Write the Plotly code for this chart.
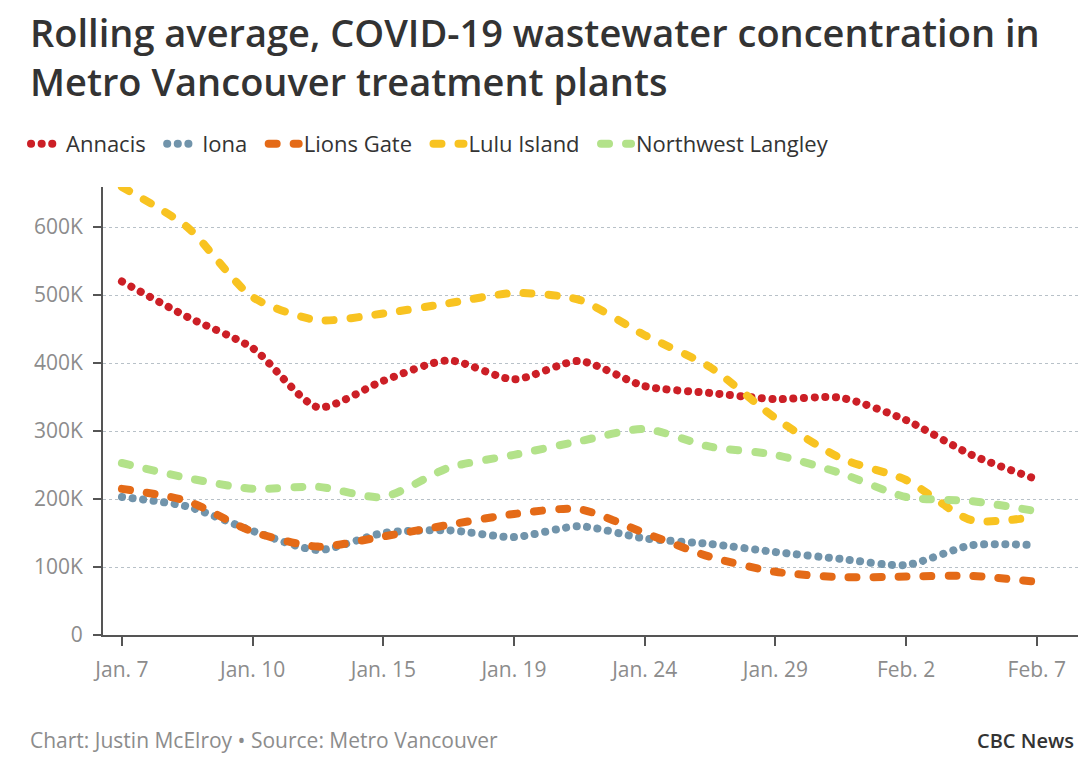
import plotly.graph_objects as go

dates = ["Jan. 7", "Jan. 8", "Jan. 10", "Jan. 12", "Jan. 15", "Jan. 17", "Jan. 19", "Jan. 22",
         "Jan. 24", "Jan. 26", "Jan. 29", "Jan. 31", "Feb. 2", "Feb. 5", "Feb. 7"]
tick_labels = ["Jan. 7", "Jan. 10", "Jan. 15", "Jan. 19", "Jan. 24", "Jan. 29", "Feb. 2", "Feb. 7"]

annacis = [520, 468, 422, 335, 374, 404, 376, 403, 366, 356, 347, 349, 316, 265, 229]
iona = [203, 189, 153, 125, 150, 154, 144, 160, 142, 134, 122, 112, 103, 132, 132]
lions_gate = [215, 197, 152, 130, 145, 162, 178, 185, 150, 115, 93, 85, 86, 87, 78]
lulu_island = [659, 600, 497, 463, 473, 488, 503, 493, 441, 394, 319, 260, 228, 169, 174]
nw_langley = [253, 231, 215, 218, 203, 246, 265, 285, 303, 277, 265, 238, 203, 197, 182]

y_ticks = [0, 100000, 200000, 300000, 400000, 500000, 600000]
y_tick_text = ["0", "100K", "200K", "300K", "400K", "500K", "600K"]

DOT = "0.1px,10.5px"
DASH = "8px,17px"
series = [
    ("Annacis", annacis, "#cc1f26", DOT),
    ("Iona", iona, "#7194ab", DOT),
    ("Lions Gate", lions_gate, "#e46a17", DASH),
    ("Lulu Island", lulu_island, "#f8c321", DASH),
    ("Northwest Langley", nw_langley, "#b3e28a", DASH),
]

NB = "\u00a0\u00a0"
fig = go.Figure()
for name, vals, color, dash in series:
    fig.add_trace(go.Scatter(
        x=dates, y=[v * 1000 for v in vals], name=name + NB, mode="lines",
        line=dict(color=color, width=8, dash=dash, shape="spline", smoothing=0.7),
        hoverinfo="skip",
    ))

PLOT_L, PLOT_T, PLOT_B = 103, 187, 635
PW, PH = 1080 - PLOT_L - 2, PLOT_B - PLOT_T


def px_x(x):
    return (x - PLOT_L) / PW


def px_y(y):
    return (PLOT_B - y) / PH


FONT = "Open Sans, sans-serif"

fig.update_layout(
    width=1080, height=760,
    margin=dict(l=PLOT_L, r=2, t=PLOT_T, b=760 - PLOT_B),
    paper_bgcolor="white", plot_bgcolor="white",
    font=dict(family=FONT, color="#333333"),
    legend=dict(
        orientation="h", x=px_x(26), xanchor="left", y=px_y(144), yanchor="middle",
        font=dict(size=22, color="#333333"), itemwidth=30,
        bgcolor="rgba(0,0,0,0)",
    ),
    showlegend=True,
)

fig.update_xaxes(
    type="category", range=[-0.29, 14.63],
    tickvals=tick_labels, ticktext=tick_labels,
    showline=True, linecolor="#555555", linewidth=2,
    ticks="outside", ticklen=9, tickwidth=2, tickcolor="#555555",
    tickfont=dict(size=21, color="#8c8c8c", family=FONT),
    ticklabelstandoff=6,
    showgrid=False, zeroline=False,
)
fig.update_yaxes(
    range=[0, 659000],
    tickvals=y_ticks, ticktext=y_tick_text,
    showline=True, linecolor="#555555", linewidth=2,
    ticks="outside", ticklen=8, tickwidth=2, tickcolor="#555555",
    tickfont=dict(size=21, color="#8c8c8c", family=FONT),
    ticklabelstandoff=6,
    showgrid=True, gridcolor="#b8c1c8", gridwidth=1.2, griddash="dot",
    zeroline=False,
)

fig.add_annotation(
    text="Rolling average, COVID-19 wastewater concentration in<br>Metro Vancouver treatment plants",
    xref="paper", yref="paper", x=px_x(28), y=px_y(4), xanchor="left", yanchor="top",
    align="left", showarrow=False,
    font=dict(size=38, color="#333333", family=FONT, weight=600),
)
fig.add_annotation(
    text="Chart: Justin McElroy • Source: Metro Vancouver",
    xref="paper", yref="paper", x=px_x(28), y=px_y(740), xanchor="left", yanchor="middle",
    showarrow=False, font=dict(size=21, color="#8c8c8c", family=FONT),
)
fig.add_annotation(
    text="CBC News",
    xref="paper", yref="paper", x=px_x(1076), y=px_y(740), xanchor="right", yanchor="middle",
    showarrow=False, font=dict(size=20, color="#333333", family=FONT, weight=600),
)

post = (
    "document.body.style.margin='0';"
    "document.querySelectorAll('.js-line').forEach(function(p){p.style.strokeLinecap='round';});"
)
fig.write_html("out.html", post_script=post, config={"displayModeBar": False})
